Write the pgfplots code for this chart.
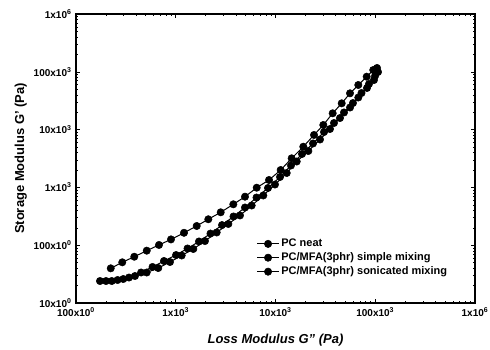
\documentclass[border=0pt]{standalone}
\usepackage{pgfplots}
\pgfplotsset{compat=1.18}
\usepackage{fontspec}
\setmainfont{Liberation Sans}
\pgfplotsset{myst/.style={black, line width=1pt, mark=*, mark size=3.7pt, mark options={fill=black, solid, line width=0.5pt}}}
\begin{document}
\begin{tikzpicture}
\begin{axis}[
  at={(0,0)}, anchor=south west,
  scale only axis, width=399pt, height=289pt,
  xmode=log, ymode=log,
  xmin=100, xmax=1000000, ymin=10, ymax=1000000,
  xtick={100,1000,10000,100000,1000000},
  xticklabels={100x10\textsuperscript{0},1x10\textsuperscript{3},10x10\textsuperscript{3},100x10\textsuperscript{3},1x10\textsuperscript{6}},
  ytick={10,100,1000,10000,100000,1000000},
  yticklabels={10x10\textsuperscript{0},100x10\textsuperscript{0},1x10\textsuperscript{3},10x10\textsuperscript{3},100x10\textsuperscript{3},1x10\textsuperscript{6}},
  tick label style={font=\fontsize{10}{12}\selectfont\bfseries},
  xticklabel style={yshift=-1.5pt},
  yticklabel style={xshift=-1pt},
  xlabel={\bfseries\itshape Loss Modulus G'' (Pa)},
  ylabel={\bfseries Storage Modulus G' (Pa)},
  label style={font=\fontsize{13}{15}\selectfont},
  xlabel style={yshift=-11pt},
  axis line style={line width=1.2pt},
  major tick length=4pt, minor tick length=2pt,
  every tick/.style={black, line width=0.6pt},
  legend style={draw=none, fill=none, at={(0.445,0.235)}, anchor=north west,
    font=\fontsize{11}{13}\selectfont\bfseries, row sep=0.5pt},
  legend cell align=left,
  legend image code/.code={\draw[#1, mark repeat=2, mark phase=2] plot coordinates {(0cm,0cm) (0.38cm,0cm) (0.76cm,0cm)};},
]
\addplot[myst] coordinates {
(200,24.0) (261,25.0) (340,27.6) (449,33.7) (585,42.0) (762,53.3) (1007,67.6) (1312,87.7) (1710,116) (2229,159) (2910,223) (3793,314) (4946,449) (6450,668) (8410,977) (11100,1514) (14290,2393) (18440,3784) (23770,5756) (30650,9080) (38560,13000) (48600,19780) (59800,28840) (72800,42950) (86500,61500) (99500,84500) (104200,116400)
};
\addlegendentry{PC neat}
\addplot[myst] coordinates {
(174,24.0) (228,24.0) (298,26.0) (390,29.3) (511,33.7) (668,40.3) (875,51.2) (1147,66.4) (1500,86.0) (1963,118) (2573,166) (3366,233) (4404,327) (5768,486) (7545,725) (9880,1122) (12950,1774) (16320,2805) (21340,4262) (27930,6745) (35180,10240) (44310,15870) (55850,24110) (67630,35900) (82650,52450) (97100,72100) (106600,99300)
};
\addlegendentry{PC/MFA(3phr) simple mixing}
\addplot[myst] coordinates {
(223,39.8) (291,50.6) (384,63.2) (512,80.4) (679,101) (896,126) (1210,164) (1622,215) (2120,281) (2823,371) (3777,510) (4946,691) (6480,988) (8610,1343) (11270,2000) (14520,3186) (19000,5058) (24330,8075) (30150,12020) (37430,19150) (46100,28500) (55850,42470) (67630,59150) (82070,82300) (95500,107400)
};
\addlegendentry{PC/MFA(3phr) sonicated mixing}
\end{axis}
\pgfresetboundingbox
\path[use as bounding box] (-76pt,-46pt) rectangle (414pt,303pt);
\end{tikzpicture}
\end{document}
